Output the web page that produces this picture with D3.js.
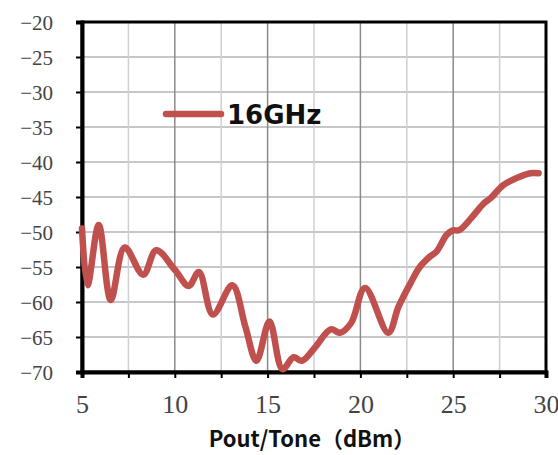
<!DOCTYPE html>
<html>
<head>
<meta charset="utf-8">
<script src="https://cdn.jsdelivr.net/npm/d3@7"></script>
<style>
  body { margin: 0; background: #fff; }
  svg { display: block; }
</style>
</head>
<body>
<div id="chart"></div>
<script>
// data
var powerOut = [5, 5.3, 5.9, 6.55, 7.3, 8.3, 9.0, 10.0, 10.75, 11.3, 12.05, 13.1, 13.8, 14.4, 15.1, 15.8, 16.4, 16.85, 17.55, 18.4, 18.9, 19.5, 20.25, 21.5, 22.05, 22.7, 23.2, 23.75, 24.1, 24.65, 24.95, 25.35, 26.1, 26.65, 27.0, 27.7, 28.4, 29.15, 29.6];
var imd = [-49.5, -57.6, -49.0, -59.7, -52.2, -56.1, -52.6, -55.4, -57.7, -55.7, -61.8, -57.6, -63.5, -68.4, -62.8, -69.6, -67.9, -68.4, -66.5, -63.9, -64.4, -63.0, -58.0, -64.4, -60.7, -57.3, -55.0, -53.5, -52.8, -50.4, -49.8, -49.7, -47.6, -45.9, -45.2, -43.3, -42.3, -41.6, -41.6];
var seriesName = "16GHz";
var xTicks = [5, 10, 15, 20, 25, 30];
var xMinorTicks = [7.5, 12.5, 17.5, 22.5, 27.5];
var yTicks = [-20, -25, -30, -35, -40, -45, -50, -55, -60, -65, -70];

var svgWidth = 558;
var svgHeight = 455;
var margin = { top: 22, right: 12, bottom: 83, left: 82 };
var width = svgWidth - margin.left - margin.right;
var height = svgHeight - margin.top - margin.bottom;

var svg = d3.select("#chart")
  .append("svg")
  .attr("width", svgWidth)
  .attr("height", svgHeight);

var g = svg.append("g")
  .attr("transform", `translate(${margin.left}, ${margin.top})`);

var x = d3.scaleLinear().domain([5, 30]).range([0, width]);
var y = d3.scaleLinear().domain([-70, -20]).range([height, 0]);

// grid
g.selectAll(".hgrid")
  .data(yTicks.filter(d => d > -70 && d < -20))
  .enter().append("line")
  .attr("x1", 0).attr("x2", width)
  .attr("y1", d => y(d)).attr("y2", d => y(d))
  .attr("stroke", "#b4b4b4")
  .attr("stroke-width", 1.5);

g.selectAll(".vminor")
  .data(xMinorTicks)
  .enter().append("line")
  .attr("x1", d => x(d)).attr("x2", d => x(d))
  .attr("y1", 0).attr("y2", height)
  .attr("stroke", "#cfcfcf")
  .attr("stroke-width", 1.5);

g.selectAll(".vmajor")
  .data(xTicks.filter(d => d > 5 && d < 30))
  .enter().append("line")
  .attr("x1", d => x(d)).attr("x2", d => x(d))
  .attr("y1", 0).attr("y2", height)
  .attr("stroke", "#8a8a8a")
  .attr("stroke-width", 1.5);

// frame
g.append("rect")
  .attr("width", width)
  .attr("height", height)
  .attr("fill", "none")
  .attr("stroke", "#000")
  .attr("stroke-width", 3);

// axes
var leftAxis = d3.axisLeft(y).tickValues(yTicks).tickSize(6).tickFormat(d3.format(""));
var yAxis = g.append("g").call(leftAxis);
yAxis.select(".domain").attr("stroke-width", 4);
yAxis.selectAll(".tick line").attr("stroke-width", 2);
yAxis.selectAll(".tick text")
  .attr("x", -29)
  .attr("dy", "0.36em")
  .style("font-family", "'Liberation Serif', serif")
  .style("font-size", "21px")
  .attr("fill", "#444");

var bottomAxis = d3.axisBottom(x).tickValues(xTicks.concat(xMinorTicks)).tickSize(6)
  .tickFormat(d => xTicks.includes(d) ? d : "");
var xAxis = g.append("g")
  .attr("transform", `translate(0, ${height})`)
  .call(bottomAxis);
xAxis.select(".domain").attr("stroke-width", 4);
xAxis.selectAll(".tick line").attr("stroke-width", 2);
xAxis.selectAll(".tick text")
  .attr("y", 41)
  .attr("dy", 0)
  .style("font-family", "'Liberation Serif', serif")
  .style("font-size", "26px")
  .attr("fill", "#444");

// data line
var line = d3.line()
  .x(d => x(d[0]))
  .y(d => y(d[1]))
  .curve(d3.curveCatmullRom.alpha(0.5));

g.append("path")
  .datum(powerOut.map((p, i) => [p, imd[i]]))
  .attr("d", line)
  .attr("fill", "none")
  .attr("stroke", "#c0504d")
  .attr("stroke-width", 6.5)
  .attr("stroke-linejoin", "round")
  .attr("stroke-linecap", "round");

// legend
svg.append("line")
  .attr("x1", 166).attr("x2", 221)
  .attr("y1", 114).attr("y2", 114)
  .attr("stroke", "#c0504d")
  .attr("stroke-width", 6.5)
  .attr("stroke-linecap", "round");

svg.append("text")
  .attr("x", 227)
  .attr("y", 124)
  .style("font-family", "'DejaVu Sans', sans-serif")
  .style("font-weight", "bold")
  .style("font-size", "26px")
  .attr("fill", "#111")
  .text(seriesName);

// x title
svg.append("text")
  .attr("x", 312)
  .attr("y", 447)
  .attr("text-anchor", "middle")
  .style("font-family", "'Noto Sans CJK SC', sans-serif")
  .style("font-weight", "bold")
  .style("font-size", "22px")
  .attr("fill", "#111")
  .text("Pout/Tone（dBm）");
</script>
</body>
</html>
